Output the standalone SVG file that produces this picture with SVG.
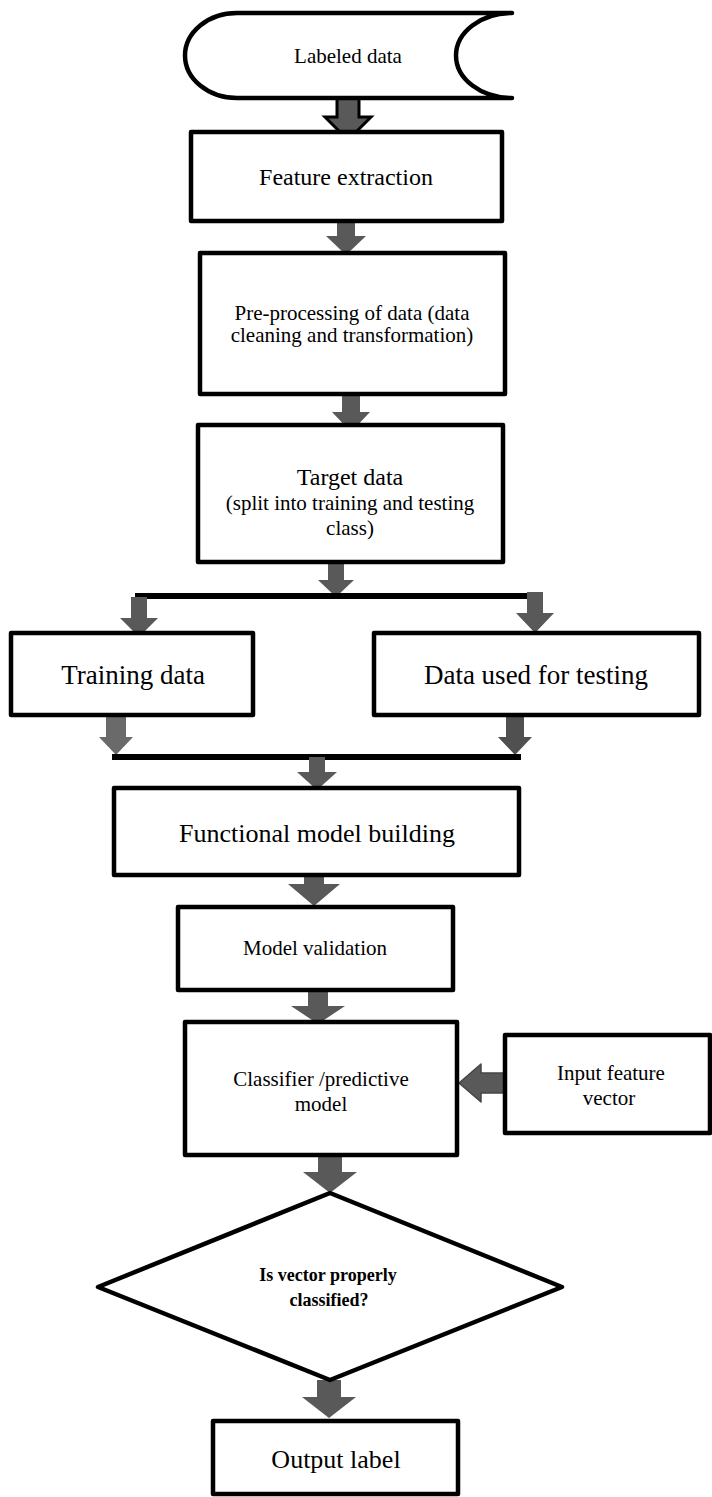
<svg xmlns="http://www.w3.org/2000/svg" width="712" height="1497" viewBox="0 0 712 1497">
<style>
.box{fill:#fff;stroke:#000;stroke-width:4.5;stroke-linejoin:round}
.t{font-family:"Liberation Serif","Times New Roman",serif;fill:#000;text-anchor:middle}
.arr{fill:#595959;stroke:none}
.bar{stroke:#000;stroke-width:6}
</style>
<rect width="712" height="1497" fill="#fff"/>
<g id="connectors">
<polygon class="arr" style="stroke:#000;stroke-width:3;stroke-linejoin:miter" points="337,98 359,98 359,117 371,117 348,140 325,117 337,117"/>
<polygon class="arr" points="337,214 355,214 355,236 366,236 346,255 326,236 337,236"/>
<polygon class="arr" points="342,392 360,392 360,412 370,412 351,432 332,412 342,412"/>
<polygon class="arr" points="328,563 344,563 344,580 354,580 336,597 318,580 328,580"/>
<line class="bar" x1="135" y1="596" x2="542" y2="596"/>
<polygon class="arr" points="131,597 147,597 147,618 158,618 139,637 120,618 131,618"/>
<polygon class="arr" points="527,592 543,592 543,613 554,613 535,633 516,613 527,613"/>
<polygon class="arr" style="fill:#6a6a6a" points="106,715 126,715 126,737 133,737 116,755 99,737 106,737"/>
<polygon class="arr" style="fill:#505050" points="506,715 524,715 524,737 532,737 515,755 498,737 506,737"/>
<line class="bar" x1="112" y1="757" x2="521" y2="757"/>
<polygon class="arr" points="309,757 325,757 325,772 337,772 317,790 297,772 309,772"/>
<polygon class="arr" points="304,872 324,872 324,884 340,884 314,906 288,884 304,884"/>
<polygon class="arr" points="308,990 328,990 328,1006 345,1006 318,1024 291,1006 308,1006"/>
<polygon class="arr" style="stroke:#454545;stroke-width:1.5;stroke-linejoin:round" points="504,1073 481,1073 481,1064 459,1083 481,1102 481,1093 504,1093"/>
<polygon class="arr" points="318,1155 342,1155 342,1172 357,1172 330,1193 303,1172 318,1172"/>
<polygon class="arr" points="317,1380 341,1380 341,1397 356,1397 329,1418 302,1397 317,1397"/>
</g>
<g id="labeled-data">
<path class="box" style="stroke-linecap:round" d="M512,13 L237,13 A52,42.5 0 0 0 237,98 L512,98 A56,42.5 0 0 1 512,13 Z"/>
<text class="t" x="348" y="63" font-size="21">Labeled data</text>
</g>
<g id="feature-extraction">
<rect class="box" x="191" y="132" width="311" height="89"/>
<text class="t" x="346" y="185" font-size="24">Feature extraction</text>
</g>
<g id="pre-processing">
<rect class="box" x="200" y="253" width="305" height="141"/>
<text class="t" x="352" y="320" font-size="21">Pre-processing of data (data</text>
<text class="t" x="352" y="342" font-size="21">cleaning and transformation)</text>
</g>
<g id="target-data">
<rect class="box" x="198" y="425" width="305" height="137"/>
<text class="t" x="350" y="485" font-size="24">Target data</text>
<text class="t" x="350" y="510" font-size="21">(split into training and testing</text>
<text class="t" x="350" y="535" font-size="21">class)</text>
</g>
<g id="training-data">
<rect class="box" x="11" y="633" width="242" height="82"/>
<text class="t" x="133" y="684" font-size="27">Training data</text>
</g>
<g id="testing-data">
<rect class="box" x="374" y="633" width="325" height="82"/>
<text class="t" x="536" y="684" font-size="27">Data used for testing</text>
</g>
<g id="functional-model">
<rect class="box" x="114" y="788" width="405" height="87"/>
<text class="t" x="317" y="842" font-size="26">Functional model building</text>
</g>
<g id="model-validation">
<rect class="box" x="178" y="907" width="275" height="83"/>
<text class="t" x="315" y="955" font-size="21">Model validation</text>
</g>
<g id="classifier">
<rect class="box" x="185" y="1022" width="272" height="133"/>
<text class="t" x="321" y="1086" font-size="21">Classifier /predictive</text>
<text class="t" x="321" y="1111" font-size="21">model</text>
</g>
<g id="input-vector">
<rect class="box" x="505" y="1035" width="205" height="98"/>
<text class="t" x="611" y="1080" font-size="21">Input feature</text>
<text class="t" x="609" y="1105" font-size="21">vector</text>
</g>
<g id="decision">
<polygon class="box" points="330,1193 562,1287 330,1380 98,1287"/>
<text class="t" x="328" y="1281" font-size="18" font-weight="bold">Is vector properly</text>
<text class="t" x="329" y="1306" font-size="18" font-weight="bold">classified?</text>
</g>
<g id="output-label">
<rect class="box" x="213" y="1421" width="245" height="73"/>
<text class="t" x="336" y="1468" font-size="26">Output label</text>
</g>
</svg>
